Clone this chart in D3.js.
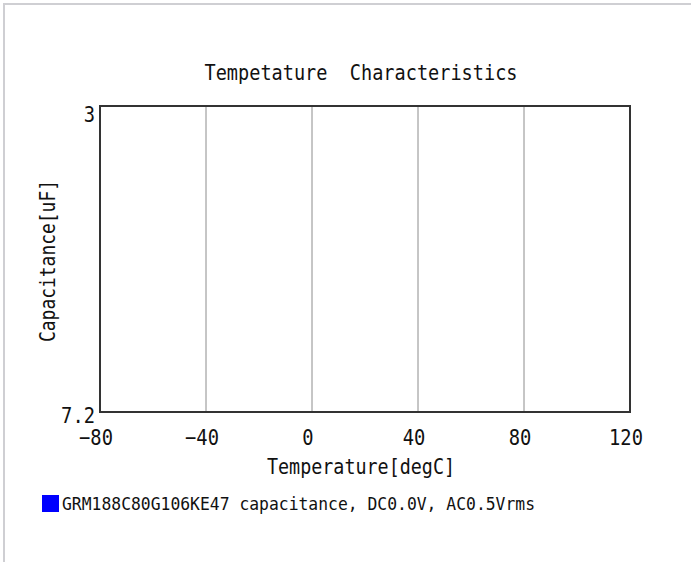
<!DOCTYPE html>
<html>
<head>
<meta charset="utf-8">
<script src="https://cdn.jsdelivr.net/npm/d3@7"></script>
<style>
  html, body { margin: 0; padding: 0; background: #fff; }
  svg { display: block; }
  text { font-family: "DejaVu Sans Mono", "Liberation Mono", monospace; fill: #111; white-space: pre; }
</style>
</head>
<body>
<svg id="chart" width="691" height="562"></svg>
<script>
// chart data (no curve is drawn in the reference)
const xTicks = [-80, -40, 0, 40, 80, 120];
const yTicks = [3, 7.2];
const yTickLabels = ['3', '7.2'];
const seriesNames = ['GRM188C80G106KE47 capacitance, DC0.0V, AC0.5Vrms'];
const seriesColors = ['#0000ff'];
const titleText = 'Tempetature  Characteristics';
const xLabel = 'Temperature[degC]';
const yLabel = 'Capacitance[uF]';

const svg = d3.select('#chart');
const plot = { left: 100, top: 106, right: 630, bottom: 412 };
const charW = 11.3; // narrow glyphs in the original

// page frame: only top and left edges show
svg.append('path')
  .attr('d', 'M4,562 V4 H691')
  .attr('fill', 'none')
  .attr('stroke', '#cfcfd3')
  .attr('stroke-width', 2);

const x = d3.scaleLinear().domain([-80, 120]).range([plot.left, plot.right]);
const y = d3.scaleLinear().domain([3, 7.2]).range([plot.top, plot.bottom]);

// vertical grid lines
svg.append('g')
  .selectAll('line')
  .data(xTicks.slice(1, -1))
  .join('line')
  .attr('x1', d => x(d)).attr('x2', d => x(d))
  .attr('y1', plot.top).attr('y2', plot.bottom)
  .attr('stroke', '#8c8c8c')
  .attr('stroke-width', 1);

// plot frame
svg.append('rect')
  .attr('x', plot.left).attr('y', plot.top)
  .attr('width', plot.right - plot.left)
  .attr('height', plot.bottom - plot.top)
  .attr('fill', 'none')
  .attr('stroke', '#333')
  .attr('stroke-width', 2);

// x tick labels
svg.append('g')
  .selectAll('text')
  .data(xTicks)
  .join('text')
  .attr('x', d => x(d) - 4)
  .attr('y', plot.bottom + 33)
  .attr('text-anchor', 'middle')
  .attr('font-size', 21)
  .attr('textLength', d => d3.format('')(d).length * charW)
  .attr('lengthAdjust', 'spacingAndGlyphs')
  .text(d => d3.format('')(d));

// y tick labels
const yOffsets = [16, 11];
svg.append('g')
  .selectAll('text')
  .data(yTicks)
  .join('text')
  .attr('x', plot.left - 5)
  .attr('y', (d, i) => y(d) + yOffsets[i])
  .attr('text-anchor', 'end')
  .attr('font-size', 21)
  .attr('textLength', (d, i) => yTickLabels[i].length * charW)
  .attr('lengthAdjust', 'spacingAndGlyphs')
  .text((d, i) => yTickLabels[i]);

// title
svg.append('text')
  .attr('x', 361).attr('y', 80)
  .attr('text-anchor', 'middle')
  .attr('font-size', 21)
  .attr('textLength', 313)
  .attr('lengthAdjust', 'spacingAndGlyphs')
  .text(titleText);

// axis titles
svg.append('text')
  .attr('x', 361).attr('y', 474)
  .attr('text-anchor', 'middle')
  .attr('font-size', 21)
  .attr('textLength', 188)
  .attr('lengthAdjust', 'spacingAndGlyphs')
  .text(xLabel);

svg.append('text')
  .attr('transform', 'translate(55,261) rotate(-90)')
  .attr('text-anchor', 'middle')
  .attr('font-size', 21)
  .attr('textLength', 162)
  .attr('lengthAdjust', 'spacingAndGlyphs')
  .text(yLabel);

// legend
const legend = svg.append('g').attr('transform', 'translate(42,495)');
legend.selectAll('rect')
  .data(seriesNames)
  .join('rect')
  .attr('x', 0).attr('y', (d, i) => i * 22)
  .attr('width', 17).attr('height', 17)
  .attr('fill', (d, i) => seriesColors[i]);
legend.selectAll('text')
  .data(seriesNames)
  .join('text')
  .attr('x', 20).attr('y', (d, i) => i * 22 + 15)
  .attr('font-size', 18)
  .attr('textLength', 473)
  .attr('lengthAdjust', 'spacingAndGlyphs')
  .text(d => d);
</script>
</body>
</html>
